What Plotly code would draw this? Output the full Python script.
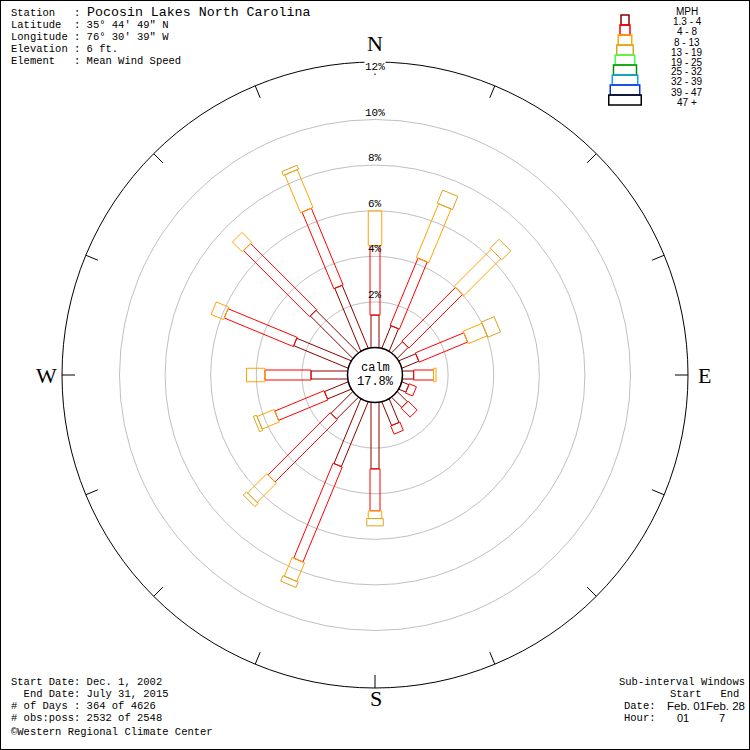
import math

import plotly.graph_objects as go

# ---- data -------------------------------------------------------------
directions = ["N", "NNE", "NE", "ENE", "E", "ESE", "SE", "SSE",
              "S", "SSW", "SW", "WSW", "W", "WNW", "NW", "NNW"]
speed_bins = ["1.3 - 4", "4 - 8", "8 - 13", "13 - 19", "19 - 25",
              "25 - 32", "32 - 39", "39 - 47", "47 +"]

# percent of all observations, per direction and speed class (MPH)
pct_1_4 = [1.42, 1.06, 0.68, 0.80, 0.49, 0.33, 0.63, 1.12,
           2.91, 3.07, 1.35, 1.12, 1.60, 2.58, 2.63, 2.98]
pct_4_8 = [3.05, 3.19, 3.33, 2.30, 0.87, 0.34, 0.56, 0.39,
           1.84, 4.51, 3.86, 2.34, 2.02, 3.28, 4.10, 3.64]
pct_8_13 = [1.52, 2.55, 2.29, 0.90, 0.11, 0.00, 0.00, 0.00,
            0.34, 0.89, 1.19, 0.81, 0.81, 0.59, 0.61, 1.80]
pct_13_19 = [0.00, 0.62, 0.55, 0.60, 0.00, 0.00, 0.00, 0.00,
             0.32, 0.26, 0.20, 0.15, 0.00, 0.00, 0.00, 0.18]
calm_pct = 17.8
grid_pcts = [2, 4, 6, 8, 10, 12]

header_rows = [
    ("Latitude", "35° 44' 49\" N"),
    ("Longitude", "76° 30' 39\" W"),
    ("Elevation", "6 ft."),
    ("Element", "Mean Wind Speed"),
]
station = "Pocosin Lakes North Carolina"
footer_rows = [
    "Start Date: Dec. 1, 2002",
    "  End Date: July 31, 2015",
    "# of Days : 364 of 4626",
    "# obs:poss: 2532 of 2548",
]

# ---- style ------------------------------------------------------------
W = H = 750
PX = 22.8          # pixels per percent
HOLE = 27.5 / PX   # calm circle radius in percent units
R_OUT = 313 / PX
MONO = "Liberation Mono"
SANS = "Liberation Sans"
SERIF = "Liberation Serif"
bin_colors = ["#8b0000", "#ff0000", "#ffa500", "#daa520", "#40ff40",
              "#009000", "#10a0f0", "#1030e0", "#000000"]
bin_widths = [8, 10, 13.5, 16.5, 19.5, 23, 25.5, 29.5, 32.5]


def nb(s):
    return s.replace(" ", "\u00a0")


fig = go.Figure()


def text(s, px, py, size, family=MONO, anchor="left", color="black", bg=None):
    fig.add_annotation(
        text=nb(s), x=px / W, y=1 - py / H, xref="paper", yref="paper",
        xanchor=anchor, yanchor="middle", showarrow=False, borderpad=0,
        bgcolor=bg, font=dict(family=family, size=size, color=color),
    )


# grid rings
for p in grid_pcts[:-1]:
    r = HOLE + p
    fig.add_shape(type="circle", x0=-r, y0=-r, x1=r, y1=r, layer="below",
                  line=dict(color="#c0c0c0", width=1))
fig.add_shape(type="circle", x0=-R_OUT, y0=-R_OUT, x1=R_OUT, y1=R_OUT,
              layer="below", line=dict(color="black", width=1))

# compass ticks on the outer ring
for i in range(len(directions)):
    th = math.radians(22.5 * i)
    r0, r1 = 300 / PX, R_OUT
    fig.add_shape(type="line", x0=r0 * math.sin(th), y0=r0 * math.cos(th),
                  x1=r1 * math.sin(th), y1=r1 * math.cos(th), layer="below",
                  line=dict(color="black", width=1))

# stacked rectangular bars
classes = [pct_1_4, pct_4_8, pct_8_13, pct_13_19]
for k, vals in enumerate(classes):
    xs, ys = [], []
    h = bin_widths[k] / 2 / PX
    for i in range(len(directions)):
        if vals[i] <= 0:
            continue
        lo = HOLE + sum(c[i] for c in classes[:k])
        hi = lo + vals[i]
        th = math.radians(22.5 * i)
        sx, sy = math.sin(th), math.cos(th)
        for r, o in [(lo, -h), (hi, -h), (hi, h), (lo, h), (lo, -h)]:
            xs.append(r * sx + o * sy)
            ys.append(r * sy - o * sx)
        xs.append(None)
        ys.append(None)
    fig.add_trace(go.Scatter(x=xs, y=ys, mode="lines", name=speed_bins[k],
                             line=dict(color=bin_colors[k], width=1),
                             hoverinfo="skip", showlegend=False))

# calm circle
fig.add_shape(type="circle", x0=-HOLE, y0=-HOLE, x1=HOLE, y1=HOLE, layer="above",
              fillcolor="white", line=dict(color="black", width=1.5))
fig.add_annotation(text="calm", x=0, y=7 / PX, showarrow=False,
                   font=dict(family=MONO, size=12, color="black"))
fig.add_annotation(text=f"{calm_pct}%", x=0, y=-7 / PX, showarrow=False,
                   font=dict(family=MONO, size=12, color="black"))

# ring labels
for p in grid_pcts:
    fig.add_annotation(text=f"{p}%", x=0, y=HOLE + p + 7 / PX, showarrow=False,
                       borderpad=0, bgcolor="white" if p == grid_pcts[-1] else None,
                       font=dict(family=MONO, size=11, color="black"))

# compass letters
text("N", 375, 43, 22, SERIF, "center")
text("S", 376, 698, 22, SERIF, "center")
text("W", 46, 375, 22, SERIF, "center")
text("E", 704, 375, 22, SERIF, "center")

# station header
text("Station   :", 10, 13, 10.5)
text(station, 86, 12, 13.3)
for j, (k, v) in enumerate(header_rows):
    text(f"{k:<10}: {v}", 10, 25 + 12 * j, 10.5)

# footer
for j, s in enumerate(footer_rows):
    text(s, 10, 682 + 12 * j, 10.5)
text("\u00a9Western Regional Climate Center", 10, 732, 10.5)
text("Sub-interval Windows", 618, 682, 10.5)
text("Start   End", 669, 694, 10.5)
text("Date:", 623, 706, 10.5)
text("Feb. 01Feb. 28", 666, 706, 11.5, SANS)
text("Hour:", 623, 718, 10.5)
text("01", 676, 718, 11, SANS)
text("7", 718, 718, 11, SANS)

# speed legend
text("MPH", 687, 11, 10, SANS, "center")
for k, lab in enumerate(speed_bins):
    half = bin_widths[k] / 2
    y0 = 15 + 10 * k
    fig.add_shape(type="rect", xref="paper", yref="paper",
                  x0=(625 - half) / W, x1=(625 + half) / W,
                  y0=1 - y0 / H, y1=1 - (y0 + 10) / H,
                  line=dict(color=bin_colors[k], width=1.5))
    text(lab, 687, 22 + 10 * k, 10, SANS, "center")

# frame
fig.add_shape(type="rect", xref="paper", yref="paper", x0=0, y0=0, x1=1, y1=1,
              line=dict(color="black", width=2))

fig.update_xaxes(range=[-375 / PX, 375 / PX], visible=False)
fig.update_yaxes(range=[-375 / PX, 375 / PX], visible=False)
fig.update_layout(width=W, height=H, margin=dict(l=0, r=0, t=0, b=0),
                  paper_bgcolor="white", plot_bgcolor="white", showlegend=False)

fig.write_html("out.html", config={"displayModeBar": False},
               post_script="document.body.style.margin = '0';")
